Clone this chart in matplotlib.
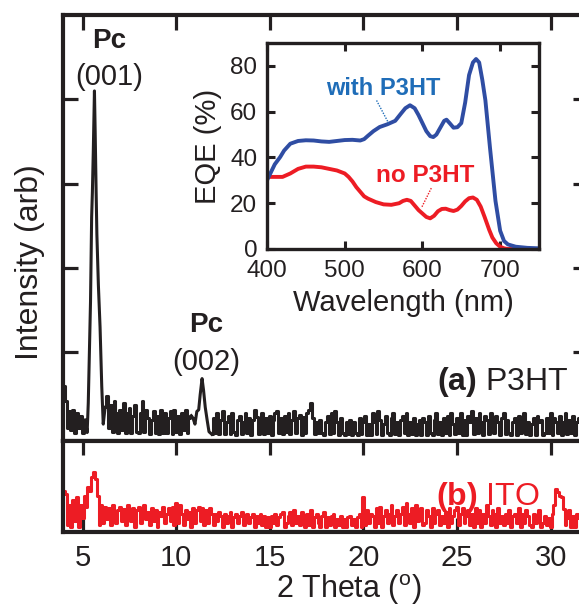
"""XRD of Pc on P3HT / ITO with EQE inset."""
import numpy as np
import matplotlib
matplotlib.use("Agg")
import matplotlib.pyplot as plt

plt.rcParams["font.family"] = ["Liberation Sans", "DejaVu Sans"]
plt.rcParams["mathtext.fontset"] = "custom"
plt.rcParams["mathtext.rm"] = "Liberation Sans"
plt.rcParams["mathtext.bf"] = "Liberation Sans:bold"

INK = "#231F20"
RED = "#ED1C24"
BLUE = "#2F4DA3"
BLUE_TXT = "#1F6DB8"

# ---- XRD, (a) P3HT: noise pieces on a 0.1 deg grid (hundredths of a y tick) ----
p3ht_a_start = 4.0
p3ht_a = [60, 42, 10, 30, 8, 32, 5, 28, 10, 25, 4, 20]
p3ht_b_start = 6.2
p3ht_b = [35, 48, 10, 38, 6, 42, 28, 4, 32, 8,
          40, 5, 28, 34, 4, 25, 38, 6, 4, 28,
          42, 6, 32, 22, 3, 20, 30, 4, 25, 3,
          32, 5, 28, 4, 22, 30, 3, 32, 6, 25,
          3, 28, 8, 32, 4, 22, 25]
p3ht_c_start = 11.9
p3ht_c = [3, 22, 4, 28, 3, 20, 30, 3, 18, 25,
          3, 28, 6, 2, 20, 25, 3, 18, 28, 4,
          22, 2, 20, 32, 24, 3, 18, 28, 3, 22,
          4, 25, 2, 20, 28, 30, 4, 22, 3, 25,
          6, 28, 3, 20, 30, 4, 22, 26, 2, 24,
          5, 28, 32, 40, 22, 3, 18, 4, 20, 5,
          2, 18, 25, 3, 28, 4, 30, 18, 2, 22,
          4, 2, 18, 3, 20, 2, 18, 5, 2, 22,
          3, 18, 25, 2, 15, 2, 28, 18, 3, 30,
          20, 2, 15, 25, 4, 2, 22, 28, 3, 18,
          2, 20, 25, 4, 28, 2, 18, 3, 22, 2,
          15, 20, 2, 22, 18, 2, 25, 4, 2, 20,
          28, 3, 18, 2, 22, 4, 25, 2, 28, 15,
          3, 22, 4, 28, 2, 20, 2, 25, 18, 30,
          3, 22, 5, 28, 18, 2, 25, 20, 3, 28,
          22, 4, 25, 18, 2, 22, 28, 3, 20, 4,
          2, 18, 22, 2, 25, 4, 20, 28, 3, 18,
          2, 15, 22, 2, 25, 18, 20, 2, 4, 22,
          4, 28, 2, 22, 18, 4, 25, 2, 18, 28,
          3, 20, 5, 25, 2, 18, 22, 3, 20, 5,
          18, 4]

# Pc peaks
pk001_x = [5.15, 5.24, 5.30, 5.36, 5.42, 5.48, 5.52, 5.57, 5.63, 5.67, 5.72, 5.76, 5.84, 5.93, 6.02, 6.10, 6.20]
pk001_y = [0.20, 0.05, 0.40, 1.00, 1.60, 2.60, 2.90, 3.40, 4.10, 3.60, 2.90, 2.40, 1.80, 1.30, 0.60, 0.15, 0.35]
pk002_x = [10.8, 10.9, 11.0, 11.1, 11.2, 11.28, 11.38, 11.46, 11.55, 11.65, 11.75, 11.9]
pk002_y = [0.25, 0.22, 0.15, 0.30, 0.32, 0.50, 0.69, 0.55, 0.35, 0.20, 0.06, 0.03]

# ---- XRD, (b) ITO (hundredths of panel height), 0.1 deg grid from 4.0 ----
ito_start = 4.0
ito = [45, 42, 8, 30, 5, 35, 12, 38, 6, 30,
       15, 40, 28, 50, 45, 60, 66, 58, 40, 8,
       30, 10, 28, 14, 26, 8, 30, 22, 10, 24,
       28, 12, 25, 8, 30, 20, 12, 26, 6, 24,
       28, 10, 24, 30, 14, 22, 8, 26, 12, 24,
       6, 22, 18, 28, 10, 20, 26, 12, 28, 8,
       32, 10, 30, 20, 8, 24, 14, 22, 6, 26,
       10, 24, 28, 12, 26, 8, 24, 10, 26, 20,
       8, 20, 12, 22, 18, 6, 20, 10, 18, 22,
       6, 16, 20, 10, 18, 22, 8, 18, 20, 10,
       16, 20, 6, 18, 10, 20, 8, 18, 6, 16,
       6, 18, 10, 20, 8, 16, 20, 22, 6, 10,
       18, 22, 8, 24, 10, 18, 8, 22, 16, 6,
       20, 8, 24, 6, 16, 20, 10, 6, 18, 22,
       6, 16, 8, 18, 20, 6, 14, 8, 18, 6,
       14, 6, 16, 18, 8, 14, 6, 16, 20, 6,
       38, 8, 24, 10, 20, 18, 6, 26, 10, 28,
       6, 18, 24, 10, 20, 30, 8, 18, 24, 10,
       20, 28, 8, 32, 20, 10, 26, 6, 30, 12,
       20, 26, 8, 10, 24, 18, 6, 26, 10, 20,
       24, 8, 18, 10, 22, 6, 26, 10, 18, 24,
       28, 8, 20, 26, 10, 18, 24, 8, 20, 6,
       26, 10, 24, 6, 20, 10, 30, 18, 8, 24,
       20, 6, 26, 10, 18, 8, 20, 10, 24, 6,
       18, 20, 10, 26, 6, 20, 10, 24, 18, 8,
       6, 20, 10, 18, 24, 6, 10, 18, 8, 15,
       5, 20, 30, 47, 44, 40, 38, 25, 8, 15,
       24, 5, 18, 6, 20, 15, 5, 20, 6, 18,
       12]

# ---- inset EQE ----
wl_with = [400, 405, 410, 417, 422, 430, 440, 450, 460, 470, 480, 490, 500, 510, 520, 525,
           530, 537, 545, 555, 565, 572, 578, 584, 590, 595, 600, 605, 610, 614, 618, 623,
           628, 631, 635, 640, 645, 650, 655, 660, 665, 669, 673, 677, 681, 687, 694, 700,
           705, 710, 720, 735, 750]
eqe_with = [30, 33.5, 37, 40.2, 43, 46, 47.2, 47.5, 47.4, 47, 46.8, 47.2, 47.6, 47.7, 47.4, 48,
            49.5, 51.5, 53.3, 54.5, 56, 59, 61.5, 62.8, 61.5, 58.5, 55, 51.5, 49.3, 48.9, 50, 53,
            56, 56.5, 55, 53, 53.2, 55, 64, 76, 81.5, 83, 81.5, 74, 65, 44, 21, 8,
            3.5, 2, 1, 0.5, 0.3]
wl_no = [400, 410, 420, 430, 440, 450, 460, 470, 480, 490, 500, 505, 510, 515, 520, 525, 530,
         540, 550, 560, 570, 575, 580, 585, 590, 595, 600, 605, 610, 615, 620, 625, 630, 635,
         640, 645, 650, 655, 660, 665, 670, 675, 680, 686, 690, 695, 700, 705, 710, 720]
eqe_no = [31.5, 31.5, 31.5, 33, 35, 36, 36, 35.7, 35, 34.3, 33, 31.5, 29.5, 27, 25, 23, 22,
          20.5, 19.5, 19.3, 20, 21, 21.5, 21, 19, 17, 15.5, 14, 13.4, 14.5, 16.5, 17.5, 17.6, 17,
          16.6, 17.2, 18.8, 20.8, 22.2, 22.5, 21.5, 18.5, 14, 8.3, 5, 2.5, 1, 0.3, 0, 0]

W, H = 579, 606
fig = plt.figure(figsize=(W / 100, H / 100), dpi=100)
ax = fig.add_axes([63 / W, 1 - 441 / H, 525 / W, 426 / H])
axb = fig.add_axes([63 / W, 1 - 532 / H, 525 / W, 91 / H])
axi = fig.add_axes([267 / W, 1 - 249 / H, 272 / W, 206 / H])


def grid(start, vals):
    return start + 0.1 * np.arange(len(vals)), np.array(vals) / 100.0


lw = 2.2
for start, vals in [(p3ht_a_start, p3ht_a), (p3ht_b_start, p3ht_b), (p3ht_c_start, p3ht_c)]:
    x, y = grid(start, vals)
    ax.plot(x, y, color=INK, lw=lw, drawstyle="steps-mid")
ax.plot(pk001_x, pk001_y, color=INK, lw=lw)
ax.plot(pk002_x, pk002_y, color=INK, lw=lw)

x, y = grid(ito_start, ito)
axb.plot(x, y, color=RED, lw=lw, drawstyle="steps-mid")

for a in (ax, axb):
    a.set_xlim(3.95, 32)
    a.set_xticks([5, 10, 15, 20, 25, 30])
    for s in a.spines.values():
        s.set_linewidth(3.0)
        s.set_color(INK)
ax.set_ylim(-0.05, 5)
ax.set_yticks([1, 2, 3, 4])
ax.tick_params(direction="in", length=10.5, width=2.3, color=INK, top=True, bottom=False,
               left=True, right=True, labelleft=False, labelbottom=False)
axb.set_ylim(0, 1)
axb.set_yticks([])
axb.tick_params(axis="x", direction="in", length=10, width=2.3, color=INK, top=True,
                bottom=True, labelsize=21, labelcolor=INK, pad=9)
axb.set_xlabel("2 Theta ($^{\\mathrm{o}}$)", fontsize=22, color=INK, labelpad=1)
axb.xaxis.set_label_coords((349 - 63) / 525, -0.44)

fig.text(30 / W, 1 - 262 / H, "Intensity (arb)", rotation=90, fontsize=23, color=INK,
         ha="center", va="center")

ax.text(6.4, 4.69, "Pc", fontsize=20, fontweight="bold", color=INK, ha="center", va="center")
ax.text(6.4, 4.26, "(001)", fontsize=21, color=INK, ha="center", va="center")
ax.text(11.62, 1.32, "Pc", fontsize=20, fontweight="bold", color=INK, ha="center", va="center")
ax.text(11.6, 0.89, "(002)", fontsize=21, color=INK, ha="center", va="center")
ax.text(30.95, 0.65, "$\\mathbf{(a)}$ P3HT", fontsize=23, color=INK, ha="right", va="center")
axb.text(29.4, 0.385, "$\\mathbf{(b)}$ ITO", fontsize=23, color=RED, ha="right", va="center")

# inset
axi.plot(wl_no, eqe_no, color=RED, lw=2.8)
axi.plot(wl_with, eqe_with, color=BLUE, lw=2.8)
axi.set_xlim(400, 750)
axi.set_ylim(0, 90)
axi.set_xticks([400, 500, 600, 700])
axi.set_yticks([0, 20, 40, 60, 80])
for s in axi.spines.values():
    s.set_linewidth(2.4)
    s.set_color(INK)
axi.tick_params(direction="in", length=5.5, width=2.2, color=INK, top=True, right=True,
                labelsize=17.5, labelcolor=INK)
axi.tick_params(axis="x", pad=8)
axi.tick_params(axis="y", pad=7)
axi.set_xlabel("Wavelength (nm)", fontsize=21, color=INK, labelpad=5)
axi.set_ylabel("EQE (%)", fontsize=21, color=INK, labelpad=6)
axi.text(549, 70.3, "with P3HT", fontsize=17, fontweight="bold", color=BLUE_TXT,
         ha="center", va="center")
axi.text(603, 32.2, "no P3HT", fontsize=17.5, fontweight="bold", color=RED,
         ha="center", va="center")
axi.plot([541, 556.6], [64.9, 54.9], color=BLUE_TXT, lw=1.0, ls=(0, (1, 1)))
axi.plot([611.4, 598.6], [26.6, 17.9], color=RED, lw=1.0, ls=(0, (1, 1)))

fig.savefig("out.png", dpi=100)
